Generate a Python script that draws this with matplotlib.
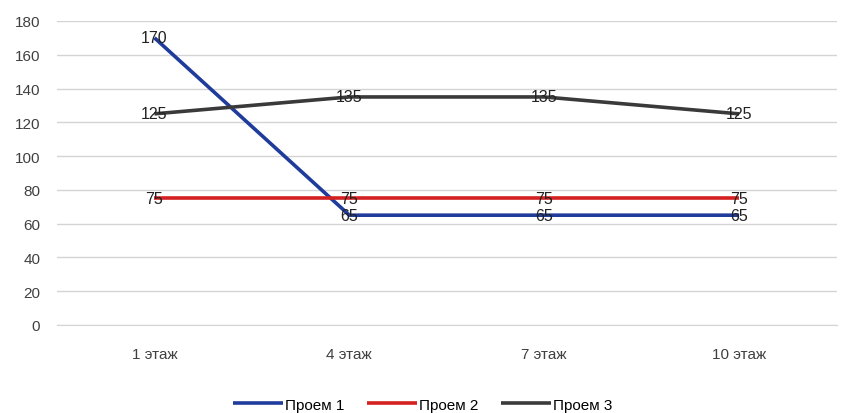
import matplotlib.pyplot as plt

floors = ['1 этаж', '4 этаж', '7 этаж', '10 этаж']
opening1 = [170, 65, 65, 65]
opening2 = [75, 75, 75, 75]
opening3 = [125, 135, 135, 125]

labels = ('Проем 1', 'Проем 2', 'Проем 3')
colours = ('#1f3b9b', '#d42020', '#3a3a3a')

plt.rcParams['font.family'] = ['Liberation Sans Narrow', 'Liberation Sans', 'DejaVu Sans']

fig = plt.figure(figsize=(8.45, 4.14), dpi=100)
ax = fig.add_axes([0.0675, 0.2126, 0.9225, 0.7344])

x = range(len(floors))
for vals, col, lab in zip((opening1, opening2, opening3), colours, labels):
    ax.plot(x, vals, color=col, linewidth=2.6, label=lab, solid_capstyle='butt')
    for xi, v in zip(x, vals):
        ax.text(xi, v, str(v), ha='center', va='center', fontsize=11.5, color='#222222')

ax.set_xlim(-0.5, 3.5)
ax.set_ylim(0, 180)
ax.set_yticks(range(0, 181, 20))
ax.set_xticks(list(x))
ax.set_xticklabels(floors)
ax.tick_params(axis='both', length=0, labelsize=11, colors='#404040')
ax.tick_params(axis='x', pad=16)
ax.tick_params(axis='y', pad=12)
ax.yaxis.grid(True, color='#d4d4d4', linewidth=1)
ax.set_axisbelow(True)
for s in ax.spines.values():
    s.set_visible(False)
ax.spines['bottom'].set_visible(True)
ax.spines['bottom'].set_color('#d4d4d4')

fig.legend(loc='lower center', bbox_to_anchor=(0.5, -0.03), ncol=3, frameon=False,
           fontsize=11, handlelength=3.3, handletextpad=0.1, columnspacing=1.5)

fig.savefig('out.png', dpi=100)
